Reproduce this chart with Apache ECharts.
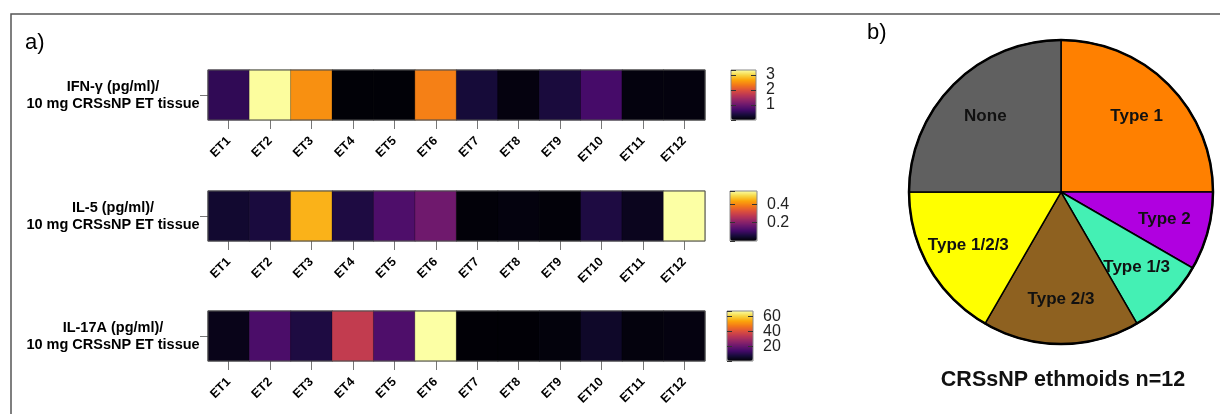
<!DOCTYPE html>
<html><head><meta charset="utf-8">
<script src="https://cdn.jsdelivr.net/npm/echarts@6/dist/echarts.min.js"></script>
<style>html,body{margin:0;padding:0;background:#fff}#c{width:1220px;height:414px}</style>
</head><body><div id="c"></div>
<script>
// ---- data ----
const samples = ['ET1','ET2','ET3','ET4','ET5','ET6','ET7','ET8','ET9','ET10','ET11','ET12'];
const rowLabels = ['IFN-γ (pg/ml)/\n10 mg CRSsNP ET tissue','IL-5 (pg/ml)/\n10 mg CRSsNP ET tissue','IL-17A (pg/ml)/\n10 mg CRSsNP ET tissue'];
const ifng = [0.53, 3.3, 2.5, 0.02, 0.02, 2.38, 0.33, 0.07, 0.36, 0.7, 0.06, 0.06];
const il5 = [0.045, 0.06, 0.45, 0.065, 0.125, 0.17, 0.005, 0.01, 0.005, 0.065, 0.027, 0.545];
const il17a = [2.7, 15, 8, 35, 15.5, 67.6, 0.3, 0.2, 1.0, 4.7, 1.2, 1.5];
const scaleMax = [3.32, 0.545, 67.6];
const scaleStep = [1, 0.2, 20];   // colour-key tick labels: 1,2,3 | 0.2,0.4 | 20,40,60
const pieNames = ['Type 1','Type 2','Type 1/3','Type 2/3','Type 1/2/3','None'];
const pieCounts = [3, 1, 1, 2, 2, 3];
const pieColors = ['#FF8000','#B000E0','#44F0B4','#8E6120','#FFFF00','#606060'];
const inferno = ['#000004','#160b39','#420a68','#6a176e','#932667','#bc3754','#dd513a','#f37819','#fca50a','#f6d746','#fcffa4'];

const values = [ifng, il5, il17a];
const heatTops = [70, 191, 311];
const barLefts = [731, 730, 727];
const barWidths = [25, 27, 26];

const chart = echarts.init(document.getElementById('c'), null, {renderer:'canvas'});
const grids = [], xAxes = [], yAxes = [], series = [], visualMaps = [];
const FONT = 'Liberation Sans, Arial, sans-serif';

for (let i = 0; i < 3; i++) {
  // heatmap grid
  grids.push({left:208, width:497, top:heatTops[i], height:50, show:true, borderColor:'#555', borderWidth:1, backgroundColor:'transparent', z:3});
  xAxes.push({type:'category', gridIndex:grids.length-1, data:samples,
    axisLine:{show:false}, axisTick:{show:true, alignWithLabel:true, length:9, lineStyle:{color:'#777'}},
    axisLabel:{rotate:45, margin:19, fontSize:12.5, fontWeight:'bold', color:'#000', fontFamily:FONT}, splitLine:{show:false}});
  yAxes.push({type:'category', gridIndex:grids.length-1, data:[rowLabels[i]],
    axisLine:{show:false}, axisTick:{show:true, alignWithLabel:true, length:8, lineStyle:{color:'#777'}},
    axisLabel:{margin:95, align:'center', fontSize:14.5, fontWeight:'bold', lineHeight:17, color:'#000', fontFamily:FONT}});
  series.push({type:'heatmap', xAxisIndex:xAxes.length-1, yAxisIndex:yAxes.length-1,
    data: values[i].map((v,j)=>[j,0,v]),
    itemStyle:{borderColor:'rgba(0,0,0,0.35)', borderWidth:0.8}, silent:true});
  visualMaps.push({type:'continuous', seriesIndex:series.length-1, min:0, max:scaleMax[i],
    inRange:{color:inferno}, calculable:false, text:null, showLabel:false,
    orient:'vertical', left:barLefts[i], top:heatTops[i], itemWidth:barWidths[i], itemHeight:50, padding:0, z:1});
  // colorbar axis grid
  grids.push({left:barLefts[i], width:barWidths[i], top:heatTops[i], height:50, show:true, borderColor:'#888', borderWidth:1, backgroundColor:'transparent', z:8});
  const gi = grids.length-1;
  xAxes.push({type:'value', gridIndex:gi, min:0, max:1, show:false});
  const axCommon = {type:'value', gridIndex:gi, min:0, max:scaleMax[i], interval:scaleStep[i], z:10,
    axisLine:{show:false, onZero:false}, splitLine:{show:false}};
  yAxes.push(Object.assign({}, axCommon, {position:'right',
    axisTick:{show:true, inside:true, length:5, lineStyle:{color:'#333'}},
    axisLabel:{show:true, margin:10, fontSize:16, lineHeight:14, color:'#222', fontFamily:FONT,
      showMinLabel:false, showMaxLabel:false, hideOverlap:false,
      formatter: v => String(Math.round(v*10)/10)}}));
  yAxes.push(Object.assign({}, axCommon, {position:'left',
    axisTick:{show:true, inside:true, length:5, lineStyle:{color:'#333'}}, axisLabel:{show:false}}));
  series.push({type:'scatter', xAxisIndex:xAxes.length-1, yAxisIndex:yAxes.length-2, data:[], silent:true});
}

const pieData = pieNames.map((n,k)=>({name:n, value:pieCounts[k], itemStyle:{color:pieColors[k]}}));
series.push({type:'pie', center:[1061,192], radius:[0,152], startAngle:90, clockwise:true, silent:true,
  data:pieData, label:{show:false}, labelLine:{show:false},
  itemStyle:{borderColor:'#000', borderWidth:1.5}});
series.push({type:'pie', center:[1061,192], radius:[56,152], startAngle:90, clockwise:true, silent:true, z:5,
  data:pieNames.map((n,k)=>({name:n, value:pieCounts[k]})),
  itemStyle:{color:'rgba(0,0,0,0)', borderWidth:0},
  label:{show:true, position:'inside', formatter:'{b}', fontSize:17, fontWeight:'bold', color:'#111', fontFamily:FONT},
  labelLine:{show:false}});

chart.setOption({
  animation:false,
  backgroundColor:'#fff',
  grid:grids, xAxis:xAxes, yAxis:yAxes, visualMap:visualMaps, series:series,
  graphic:[
    {type:'rect', shape:{x:11, y:14, width:1300, height:500}, style:{fill:'none', stroke:'#555', lineWidth:1.5}, silent:true},
    {type:'circle', shape:{cx:1061, cy:192, r:152}, style:{fill:'none', stroke:'#000', lineWidth:2.5}, silent:true, z:20},
    {type:'text', x:25, y:43, style:{text:'a)', font:'22px Liberation Sans, Arial, sans-serif', fill:'#000', verticalAlign:'middle'}},
    {type:'text', x:867, y:33, style:{text:'b)', font:'22px Liberation Sans, Arial, sans-serif', fill:'#000', verticalAlign:'middle'}},
    {type:'text', x:1063, y:380, style:{text:'CRSsNP ethmoids n=12', font:'bold 21.5px Liberation Sans, Arial, sans-serif', fill:'#111', align:'center', verticalAlign:'middle'}}
  ]
});
</script></body></html>
